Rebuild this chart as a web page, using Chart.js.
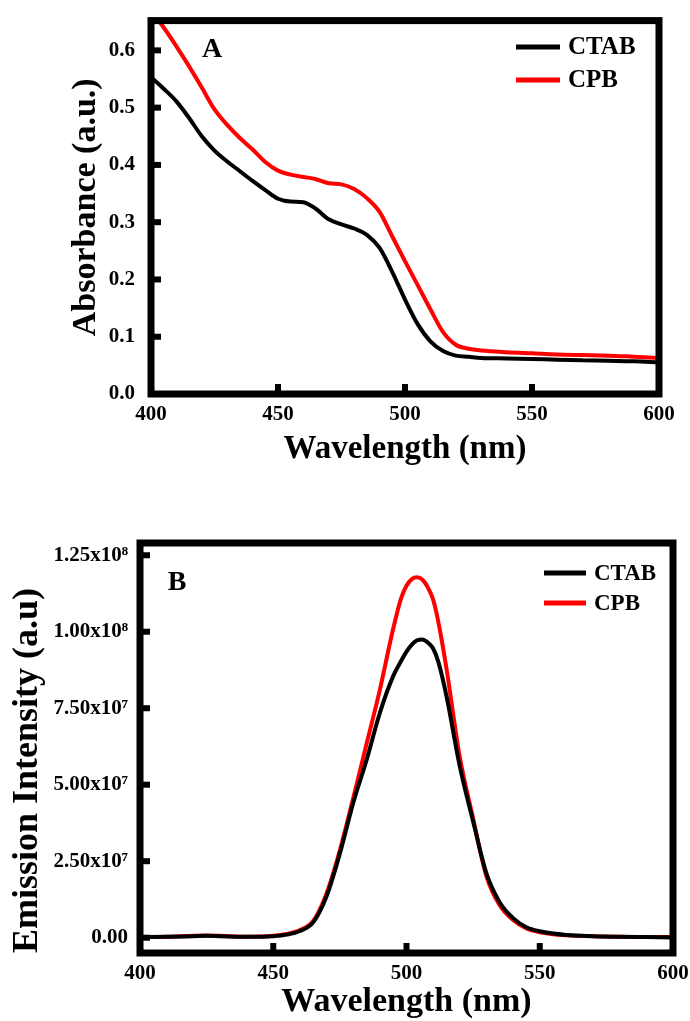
<!DOCTYPE html>
<html>
<head>
<meta charset="utf-8">
<script src="https://cdn.jsdelivr.net/npm/chart.js@4.4.1/dist/chart.umd.min.js"></script>
<style>
  body { margin: 0; background: #fff; overflow: hidden; }
  #boxA { position: absolute; left: 0; top: 0; }
  #boxB { position: absolute; left: 0; top: 520px; }
</style>
</head>
<body>
<div id="boxA"><canvas id="chartA" width="690" height="470"></canvas></div>
<div id="boxB"><canvas id="chartB" width="690" height="503"></canvas></div>
<script>
// panel A - absorbance
const wavelengthA = [400, 405, 410, 415, 420, 425, 430, 435, 440, 445, 450, 455, 460, 465, 470, 475, 480, 485, 490, 495, 500, 505, 510, 515, 520, 525, 530, 540, 550, 560, 570, 580, 590, 600];
const ctabAbs = [0.553, 0.533, 0.511, 0.482, 0.450, 0.425, 0.406, 0.389, 0.372, 0.356, 0.341, 0.336, 0.335, 0.323, 0.305, 0.296, 0.289, 0.278, 0.255, 0.213, 0.165, 0.122, 0.092, 0.075, 0.067, 0.065, 0.063, 0.062, 0.061, 0.060, 0.059, 0.058, 0.057, 0.055];
const cpbAbs = [0.668, 0.640, 0.607, 0.572, 0.535, 0.497, 0.470, 0.447, 0.427, 0.405, 0.390, 0.383, 0.379, 0.375, 0.368, 0.366, 0.358, 0.342, 0.318, 0.275, 0.232, 0.190, 0.148, 0.108, 0.086, 0.079, 0.076, 0.073, 0.071, 0.069, 0.068, 0.067, 0.065, 0.063];

// panel B - emission
const wavelengthB = [400, 410, 420, 425, 430, 440, 450, 455, 460, 465, 470, 475, 480, 485, 490, 495, 498, 500, 502, 504, 506, 508, 510, 512, 515, 520, 525, 530, 535, 540, 545, 550, 560, 570, 580, 590, 600];
const ctabEm = [2e5, 3e5, 5e5, 6e5, 5e5, 3e5, 5e5, 1.0e6, 2.2e6, 5.0e6, 1.35e7, 2.75e7, 4.4e7, 5.8e7, 7.35e7, 8.55e7, 9.05e7, 9.35e7, 9.58e7, 9.72e7, 9.75e7, 9.65e7, 9.45e7, 9.0e7, 7.9e7, 5.6e7, 3.8e7, 2.1e7, 1.15e7, 6.4e6, 3.4e6, 2.1e6, 9e5, 5e5, 3e5, 2e5, 1e5];
const cpbEm = [2e5, 3e5, 6e5, 7e5, 6e5, 3e5, 6e5, 1.2e6, 2.5e6, 5.5e6, 1.45e7, 2.86e7, 4.56e7, 6.33e7, 8.1e7, 1.01e8, 1.11e8, 1.15e8, 1.172e8, 1.178e8, 1.17e8, 1.145e8, 1.105e8, 1.03e8, 8.8e7, 5.9e7, 3.9e7, 2.0e7, 1.05e7, 5.8e6, 3.0e6, 1.8e6, 8e5, 5e5, 3e5, 2e5, 2e5];

const seriesNames = ['CTAB', 'CPB'];
const seriesColors = ['#000000', '#ff0000'];
const xTicks = [400, 450, 500, 550, 600];
const absTicks = [0, 0.1, 0.2, 0.3, 0.4, 0.5, 0.6];
const emTicks = [0, 2.5e7, 5e7, 7.5e7, 1e8, 1.25e8];

Chart.defaults.font.family = '"Liberation Serif", "Times New Roman", serif';
Chart.defaults.font.weight = 'bold';
Chart.defaults.color = '#000';

const sup = {'0': '⁰', '1': '¹', '2': '²', '3': '³', '4': '⁴', '5': '⁵', '6': '⁶', '7': '⁷', '8': '⁸', '9': '⁹'};
function sciLabel(v) {
    if (v === 0) return '0.00';
    const e = Math.floor(Math.log10(v) + 1e-9);
    const m = v / Math.pow(10, e);
    return m.toFixed(2) + 'x10' + String(e).split('').map(d => sup[d]).join('');
}

function points(xs, ys) {
    return xs.map((x, i) => ({x: x, y: ys[i]}));
}

// thick box round the plot plus inward tick marks
const framePlugin = {
    id: 'frame',
    afterDatasetsDraw(chart) {
        const {ctx, chartArea: a, scales} = chart;
        ctx.save();
        ctx.strokeStyle = '#000';
        ctx.lineWidth = 7;
        ctx.strokeRect(a.left, a.top, a.right - a.left, a.bottom - a.top);
        ctx.fillStyle = '#000';
        scales.x.ticks.forEach(t => {
            const px = scales.x.getPixelForValue(t.value);
            if (px > a.left + 5 && px < a.right - 5) ctx.fillRect(px - 3, a.bottom - 10, 6, 10);
        });
        scales.y.ticks.forEach(t => {
            const py = scales.y.getPixelForValue(t.value);
            if (py > a.top + 5 && py < a.bottom - 5) ctx.fillRect(a.left, py - 3, 10, 6);
        });
        ctx.restore();
    }
};

// panel letter and legend drawn inside the plot
const insidePlugin = {
    id: 'inside',
    afterDraw(chart, args, opts) {
        const ctx = chart.ctx;
        ctx.save();
        ctx.fillStyle = '#000';
        ctx.textBaseline = 'middle';
        ctx.textAlign = 'center';
        ctx.font = 'bold ' + opts.panelSize + 'px "Liberation Serif"';
        ctx.fillText(opts.panel, opts.panelX, opts.panelY);
        ctx.textAlign = 'left';
        ctx.font = 'bold ' + opts.legendSize + 'px "Liberation Serif"';
        chart.data.datasets.forEach((ds, i) => {
            const y = opts.legendY + i * opts.legendGap;
            ctx.strokeStyle = ds.borderColor;
            ctx.lineWidth = 5;
            ctx.beginPath();
            ctx.moveTo(opts.legendX, y);
            ctx.lineTo(opts.legendX + opts.lineLen, y);
            ctx.stroke();
            ctx.fillText(ds.label, opts.legendX + opts.lineLen + 8, y + 1);
        });
        ctx.restore();
    }
};

function makeDatasets(xs, series) {
    return series.map((ys, i) => ({
        label: seriesNames[i],
        data: points(xs, ys),
        borderColor: seriesColors[i],
        borderWidth: 4,
        pointRadius: 0,
        cubicInterpolationMode: 'monotone'
    }));
}

new Chart(document.getElementById('chartA'), {
    type: 'line',
    data: { datasets: makeDatasets(wavelengthA, [ctabAbs, cpbAbs]) },
    options: {
        responsive: false,
        animation: false,
        layout: { padding: { left: 0, right: 31, top: 17, bottom: 0 } },
        plugins: {
            legend: { display: false },
            tooltip: { enabled: false },
            inside: { panel: 'A', panelX: 212, panelY: 50, panelSize: 28,
                      legendX: 516, legendY: 47, legendGap: 33, lineLen: 44, legendSize: 25 }
        },
        scales: {
            x: {
                type: 'linear', min: 400, max: 600,
                afterBuildTicks: s => { s.ticks = xTicks.map(v => ({value: v})); },
                afterFit: s => { s.height = 76; },
                grid: { display: false }, border: { display: false },
                ticks: { font: { size: 21 }, padding: 0, maxRotation: 0 },
                title: { display: true, text: 'Wavelength (nm)', font: { size: 33 }, padding: { top: 0, bottom: 1 } }
            },
            y: {
                min: 0, max: 0.652,
                afterBuildTicks: s => { s.ticks = absTicks.map(v => ({value: v})); },
                afterFit: s => { s.width = 151; },
                grid: { display: false }, border: { display: false },
                ticks: { font: { size: 21 }, padding: 8, callback: v => v.toFixed(1) },
                title: { display: true, text: 'Absorbance (a.u.)', font: { size: 34 }, padding: { top: 66, bottom: 0 } }
            }
        }
    },
    plugins: [framePlugin, insidePlugin]
});

new Chart(document.getElementById('chartB'), {
    type: 'line',
    data: { datasets: makeDatasets(wavelengthB, [ctabEm, cpbEm]) },
    options: {
        responsive: false,
        animation: false,
        layout: { padding: { left: 0, right: 17, top: 23, bottom: 0 } },
        plugins: {
            legend: { display: false },
            tooltip: { enabled: false },
            inside: { panel: 'B', panelX: 177, panelY: 63, panelSize: 28,
                      legendX: 544, legendY: 53, legendGap: 30, lineLen: 42, legendSize: 23 }
        },
        scales: {
            x: {
                type: 'linear', min: 400, max: 600,
                afterBuildTicks: s => { s.ticks = xTicks.map(v => ({value: v})); },
                afterFit: s => { s.height = 70; },
                grid: { display: false }, border: { display: false },
                ticks: { font: { size: 21 }, padding: 0, maxRotation: 0 },
                title: { display: true, text: 'Wavelength (nm)', font: { size: 34 }, padding: { top: 0, bottom: 0 } }
            },
            y: {
                min: -5e6, max: 1.29e8,
                afterBuildTicks: s => { s.ticks = emTicks.map(v => ({value: v})); },
                afterFit: s => { s.width = 140; },
                grid: { display: false }, border: { display: false },
                ticks: { font: { size: 21 }, padding: 4, callback: v => sciLabel(v) },
                title: { display: true, text: 'Emission Intensity (a.u)', align: 'start', font: { size: 36 }, padding: { top: 6, bottom: 0 } }
            }
        }
    },
    plugins: [framePlugin, insidePlugin]
});
</script>
</body>
</html>
